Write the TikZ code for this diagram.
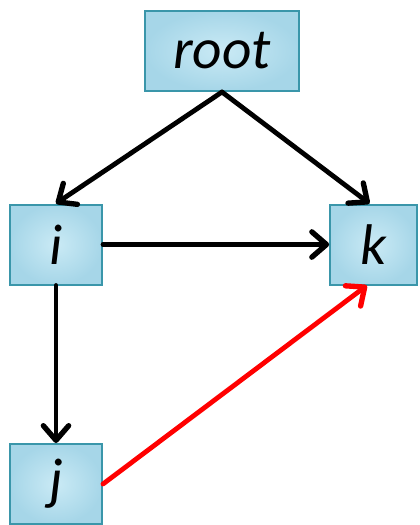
\documentclass[tikz,border=0pt]{standalone}
\usepackage{fontspec}
\setmainfont{Carlito}
\usetikzlibrary{arrows.meta}
\definecolor{boxedge}{RGB}{58,150,170}
\definecolor{boxin}{RGB}{202,234,245}
\definecolor{boxout}{RGB}{166,214,232}
\tikzset{
  vbox/.style={draw=boxedge, line width=1.5pt, inner color=boxin, outer color=boxout,
    minimum height=60pt, inner sep=0pt, font=\fontsize{43}{46}\selectfont\itshape},
  edge/.style={line width=3.6pt, line cap=round,
    -{Straight Barb[length=11pt,width=19pt,line width=4pt,round]}}
}
\begin{document}
\begin{tikzpicture}[x=0.75pt,y=0.75pt,yscale=-1,xscale=1]
    \useasboundingbox (0,0) rectangle (419,525);
    % vertices
    \node[vbox, minimum width=115.5pt] (root) at (222,51) {root};
    \node[vbox, minimum width=69pt] (i) at (56,244.5) {i};
    \node[vbox, minimum width=65pt] (k) at (373.5,244.5) {k};
    \node[vbox, minimum width=69pt] (j) at (56,484) {j};
    % tree edges
    \draw[edge] (root.south) -- (i.north);
    \draw[edge] (root.south) -- ([xshift=-3pt]k.north);
    \draw[edge] (i.east) -- (k.west);
    \draw[edge] (i.south) -- (j.north);
    % cross edge
    \draw[edge, red] (j.east) -- ([xshift=-5pt]k.south);
\end{tikzpicture}
\end{document}
